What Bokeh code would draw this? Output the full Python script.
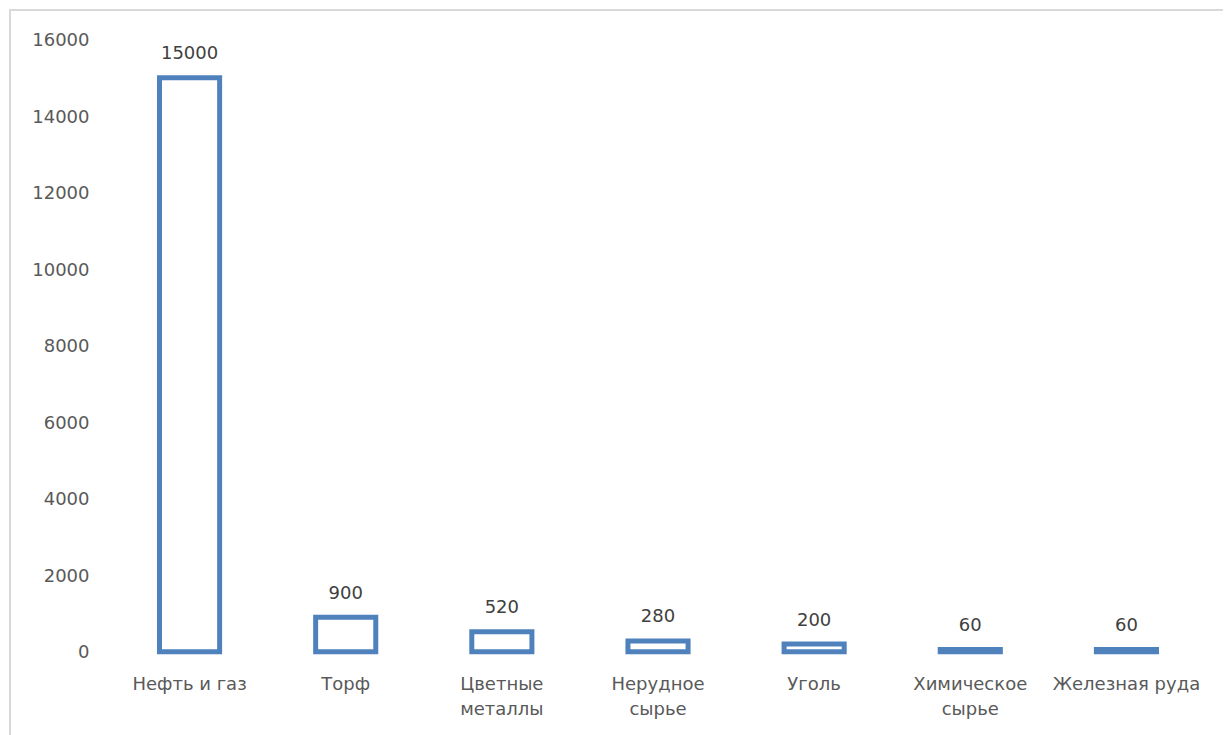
from bokeh.plotting import figure
from bokeh.models import ColumnDataSource, LabelSet, FixedTicker, Range1d
from bokeh.core.properties import value
from bokeh.embed import file_html
from bokeh.resources import INLINE

# Categories (axis labels, with manual line breaks) and values
categories = ["Нефть и газ", "Торф", "Цветные\nметаллы", "Нерудное\nсырье",
              "Уголь", "Химическое\nсырье", "Железная руда"]
values = [15000, 900, 520, 280, 200, 60, 60]
value_labels = ["15000", "900", "520", "280", "200", "60", "60"]
y_ticks = [0, 2000, 4000, 6000, 8000, 10000, 12000, 14000, 16000]

FONT = "DejaVu Sans"
BLUE = "#4F81BD"

source = ColumnDataSource(data=dict(cat=categories, val=values, lab=value_labels))

p = figure(
    x_range=categories,
    y_range=Range1d(-100, 16000),
    width=1214, height=726,
    output_backend="svg",
    toolbar_location=None,
    min_border_left=100, min_border_right=21,
    min_border_top=28, min_border_bottom=82,
)
p.margin = (9, 0, 0, 9)
p.styles = {"border-left": "2px solid #D9D9D9", "border-top": "2px solid #D9D9D9"}

p.vbar(x="cat", top="val", bottom=0, width=0.385, source=source,
       fill_color="white", line_color=BLUE, line_width=5, line_join="miter")

labels = LabelSet(x="cat", y="val", text="lab", source=source,
                  text_align="center", text_baseline="middle", y_offset=25,
                  text_font=value(FONT), text_font_size="18px", text_color="#404040")
p.add_layout(labels)

p.outline_line_color = None
p.background_fill_color = "white"
p.border_fill_color = "white"
p.xgrid.grid_line_color = None
p.ygrid.grid_line_color = None

p.yaxis.ticker = FixedTicker(ticks=y_ticks)
for ax in (p.xaxis[0], p.yaxis[0]):
    ax.axis_line_color = None
    ax.major_tick_line_color = None
    ax.minor_tick_line_color = None
    ax.major_tick_out = 0
    ax.major_tick_in = 0
    ax.major_label_text_font = FONT
    ax.major_label_text_font_size = "18px"
    ax.major_label_text_color = "#595959"
p.yaxis.major_label_standoff = 22
p.xaxis.major_label_standoff = 17

open("out.html", "w").write(file_html(p, INLINE))
